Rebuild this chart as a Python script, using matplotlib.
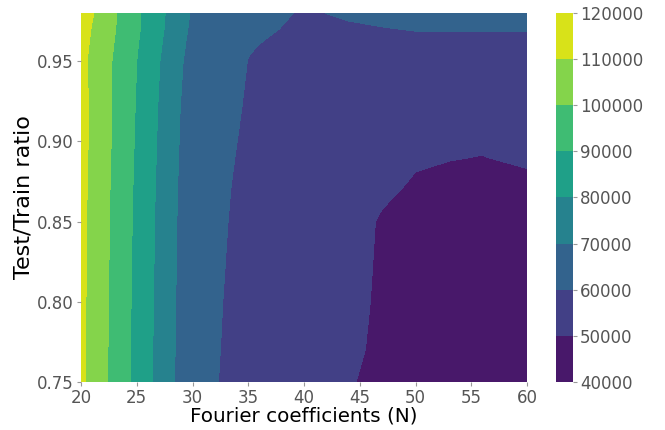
import numpy as np
import matplotlib.pyplot as plt

plt.rcParams['font.family'] = ['DejaVu Sans']

# grid (in units of 1000)
n_coeffs = [20, 25, 30, 35, 40, 44, 47, 50, 53, 56, 60]
ratios = [0.75, 0.77, 0.80, 0.85, 0.87, 0.89, 0.92, 0.95, 0.96, 0.97, 0.98]

z_075 = [112.0, 87.0, 62.0, 57.7, 53.5, 50.4, 48.6, 46.0, 44.5, 44.0, 44.5]
z_077 = [112.0, 87.2, 62.2, 57.8, 54.0, 51.0, 49.0, 46.0, 44.5, 44.0, 44.5]
z_080 = [112.2, 87.5, 62.5, 57.9, 54.3, 51.3, 49.3, 46.5, 45.0, 44.5, 45.0]
z_085 = [112.5, 88.0, 63.0, 58.3, 55.0, 52.0, 49.5, 47.5, 46.5, 46.0, 46.5]
z_087 = [112.7, 88.3, 63.3, 58.5, 55.5, 52.5, 50.8, 49.4, 48.5, 48.0, 48.5]
z_089 = [113.0, 88.7, 63.8, 58.8, 56.0, 53.5, 52.0, 50.5, 50.2, 49.9, 50.8]
z_092 = [113.3, 89.3, 64.5, 59.4, 57.0, 55.0, 54.0, 53.0, 52.5, 52.0, 52.5]
z_095 = [112.5, 90.0, 66.0, 59.9, 58.3, 57.5, 57.3, 57.3, 57.3, 57.3, 57.5]
z_096 = [113.2, 90.7, 67.0, 60.3, 58.6, 58.4, 58.5, 58.7, 58.7, 58.7, 58.7]
z_097 = [114.0, 91.5, 68.0, 61.5, 58.8, 59.2, 59.8, 60.2, 60.2, 60.2, 60.2]
z_098 = [115.5, 91.5, 69.0, 63.0, 59.3, 60.8, 61.3, 61.5, 61.5, 61.5, 61.4]

Z = np.array([z_075, z_077, z_080, z_085, z_087, z_089, z_092,
              z_095, z_096, z_097, z_098]) * 1000
X, Y = np.meshgrid(n_coeffs, ratios)
levels = np.arange(40000, 120001, 10000)

fig = plt.figure(figsize=(6.65, 4.3), dpi=100)
ax = fig.add_axes([0.1218, 0.1116, 0.6707, 0.8582])
cax = fig.add_axes([0.836, 0.1116, 0.0256, 0.8582])

cf = ax.contourf(X, Y, Z, levels=levels, cmap='viridis')
ax.set_xlim(20, 60)
ax.set_ylim(0.75, 0.98)
ax.set_xticks([20, 25, 30, 35, 40, 45, 50, 55, 60])
ax.set_yticks([0.75, 0.80, 0.85, 0.90, 0.95])
ax.set_xlabel('Fourier coefficients (N)', fontsize=14.3, labelpad=0)
ax.set_ylabel('Test/Train ratio', fontsize=16, labelpad=3)
for s in ax.spines.values():
    s.set_visible(False)
ax.tick_params(axis='both', labelsize=12, labelcolor='#555555', color='#999999', length=3, width=0.8, pad=2)

cbar = fig.colorbar(cf, cax=cax)
cbar.outline.set_visible(False)
cbar.set_ticks(levels)
cbar.ax.tick_params(labelsize=12, labelcolor='#555555', color='#999999', length=3, width=0.8, pad=2)

plt.savefig('out.png', dpi=100)
plt.close()
